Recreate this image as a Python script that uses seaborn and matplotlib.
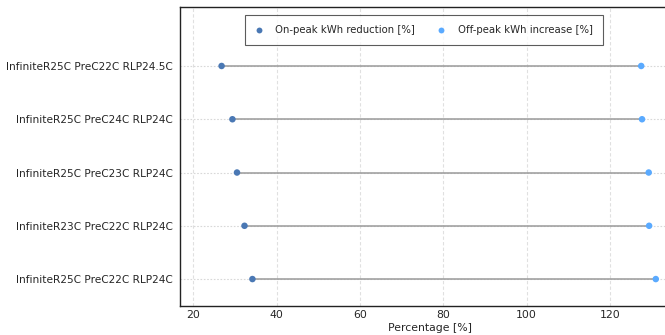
import matplotlib
matplotlib.use("Agg")
import matplotlib.pyplot as plt
import seaborn as sns
import pandas as pd

# Data (bottom to top)
categories = [
    "InfiniteR25C PreC22C RLP24C",
    "InfiniteR23C PreC22C RLP24C",
    "InfiniteR25C PreC23C RLP24C",
    "InfiniteR25C PreC24C RLP24C",
    "InfiniteR25C PreC22C RLP24.5C",
]
on_peak_reduction = [34.2, 32.3, 30.5, 29.4, 26.8]
off_peak_increase = [131.0, 129.4, 129.3, 127.7, 127.5]
series_names = ["On-peak kWh reduction [%]", "Off-peak kWh increase [%]"]
x_ticks = [20, 40, 60, 80, 100, 120]

sns.set_style("white")
plt.rcParams["font.family"] = ["DejaVu Sans"]

df = pd.DataFrame({
    "Scenario": categories * 2,
    "Value": on_peak_reduction + off_peak_increase,
    "Metric": [series_names[0]] * len(categories) + [series_names[1]] * len(categories),
})

W, H = 665, 335
fig = plt.figure(figsize=(W / 100, H / 100), dpi=100)
px_per_unit = 4.167
xmin, xmax = 16.7, 137.0
left_px, bottom_px, top_px = 179.5, 305.7, 7.0
ax = fig.add_axes([left_px / W, (H - bottom_px) / H,
                   (xmax - xmin) * px_per_unit / W, (bottom_px - top_px) / H])

# connectors
ax.hlines(categories, on_peak_reduction, off_peak_increase, color="#9a9a9a", lw=1.1, zorder=2)

sns.scatterplot(data=df, x="Value", y="Scenario", hue="Metric",
                palette=["#4a78b4", "#5aaaff"], s=22, edgecolor="none",
                ax=ax, zorder=3)

ax.set_xlim(xmin, xmax)
ax.set_ylim(-0.5, 5.107)
ax.set_xticks(x_ticks)
ax.set_xlabel("Percentage [%]", fontsize=7.8, labelpad=2)
ax.set_ylabel("")

ax.grid(axis="x", color="#e0e0e0", ls=(0, (3, 2)), lw=0.8)
ax.grid(axis="y", color="#d8d8d8", ls=(0, (1.5, 1.5)), lw=0.8)
ax.set_axisbelow(True)

for sp in ax.spines.values():
    sp.set_color("#222222")
    sp.set_linewidth(1.0)

ax.tick_params(axis="y", labelsize=7.6, length=3, width=0.8, color="#333333", pad=2)
ax.tick_params(axis="x", labelsize=7.8, length=3, width=0.8, color="#999999",
               direction="in", pad=3)

leg = ax.legend(loc="upper center", bbox_to_anchor=(424 / W, (H - 10) / H),
                bbox_transform=fig.transFigure, ncol=2, fontsize=7.3,
                frameon=True, fancybox=False, edgecolor="#333333",
                handletextpad=1.3, columnspacing=2.2, borderpad=1.0,
                handlelength=0.7, markerscale=0.9)
leg.get_frame().set_linewidth(0.8)

fig.savefig("out.png", dpi=100)
